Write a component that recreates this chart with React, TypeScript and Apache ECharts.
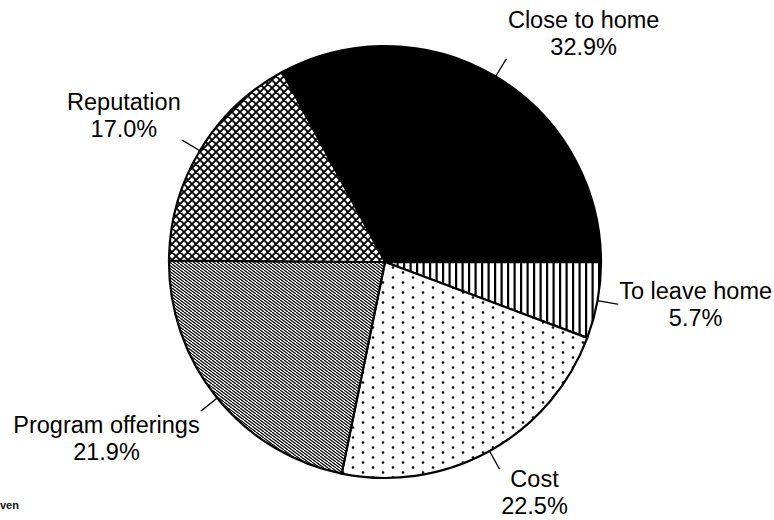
import React, { useEffect, useRef } from "react";
import * as echarts from "echarts";

const categories = ["Close to home", "To leave home", "Cost", "Program offerings", "Reputation"];
const shares = [32.9, 5.7, 22.5, 21.9, 17.0];
const footnote = "ven";

function tile(w: number, h: number, draw: (ctx: CanvasRenderingContext2D) => void) {
  const c = document.createElement("canvas");
  c.width = w;
  c.height = h;
  const ctx = c.getContext("2d")!;
  ctx.fillStyle = "#ffffff";
  ctx.fillRect(0, 0, w, h);
  ctx.fillStyle = "#000000";
  ctx.strokeStyle = "#000000";
  draw(ctx);
  return { image: c, repeat: "repeat", imageWidth: w, imageHeight: h } as any;
}

function makeFills() {
  const vertical = tile(13, 6, (ctx) => {
    ctx.fillRect(0, 0, 2.2, 6);
    ctx.fillRect(6.5, 0, 2.2, 6);
  });
  const dots = tile(20, 10, (ctx) => {
    ctx.beginPath();
    ctx.arc(3, 2.5, 1.35, 0, Math.PI * 2);
    ctx.closePath();
    ctx.moveTo(14.35, 7.5);
    ctx.arc(13, 7.5, 1.35, 0, Math.PI * 2);
    ctx.fill();
  });
  const diag = tile(8, 6, (ctx) => {
    ctx.lineWidth = 1.25;
    ctx.beginPath();
    for (let k = -3; k <= 2; k++) {
      ctx.moveTo(k * 4, 0);
      ctx.lineTo(k * 4 + 8, 6);
    }
    ctx.stroke();
  });
  const cross = tile(8, 8, (ctx) => {
    ctx.lineWidth = 1.8;
    ctx.beginPath();
    for (let k = -1; k <= 1; k++) {
      ctx.moveTo(k * 8, 0);
      ctx.lineTo(k * 8 + 8, 8);
      ctx.moveTo(k * 8, 8);
      ctx.lineTo(k * 8 + 8, 0);
    }
    ctx.stroke();
  });
  return ["#000000", vertical, dots, diag, cross];
}

// label vertical offsets (padding) to place each label block beyond its leader line
const labelPads: number[][] = [
  [0, 0, 52, 0],
  [0, 0, 0, 0],
  [48, 0, 0, 0],
  [56, 0, 0, 0],
  [0, 0, 50, 0],
];

export default function App() {
  const ref = useRef<HTMLDivElement>(null);
  useEffect(() => {
    if (!ref.current) return;
    const chart = echarts.init(ref.current, null, { renderer: "svg" });
    const fills = makeFills();
    const data = categories.map((name, i) => ({
      name,
      value: shares[i],
      itemStyle: { color: fills[i] },
      label: { padding: labelPads[i] },
    }));
    chart.setOption({
      animation: false,
      backgroundColor: "#ffffff",
      graphic: [
        {
          type: "text",
          left: 0,
          top: 499,
          style: {
            text: footnote,
            font: "bold 11px 'Liberation Sans', Arial, sans-serif",
            fill: "#111",
          },
        },
      ],
      series: [
        {
          type: "pie",
          center: [385, 262],
          radius: 216,
          startAngle: 118.4,
          clockwise: true,
          avoidLabelOverlap: false,
          data,
          itemStyle: { borderColor: "#000", borderWidth: 2.2 },
          emphasis: { disabled: true },
          label: {
            show: true,
            position: "outside",
            distanceToLabelLine: 1,
            formatter: (p: any) => `{t|${p.name}}\n{t|${p.value.toFixed(1)}%}`,
            rich: {
              t: {
                align: "center",
                fontFamily: "'Liberation Sans', Arial, sans-serif",
                fontSize: 23.5,
                lineHeight: 27,
                color: "#000",
              },
            },
          },
          labelLine: {
            show: true,
            length: 20,
            length2: 1,
            minTurnAngle: 0,
            lineStyle: { color: "#000", width: 1.3 },
          },
        },
      ],
    });
    return () => chart.dispose();
  }, []);
  return (
    <div
      ref={ref}
      style={{ position: "fixed", left: 0, top: 0, width: 774, height: 520, background: "#fff" }}
    />
  );
}
